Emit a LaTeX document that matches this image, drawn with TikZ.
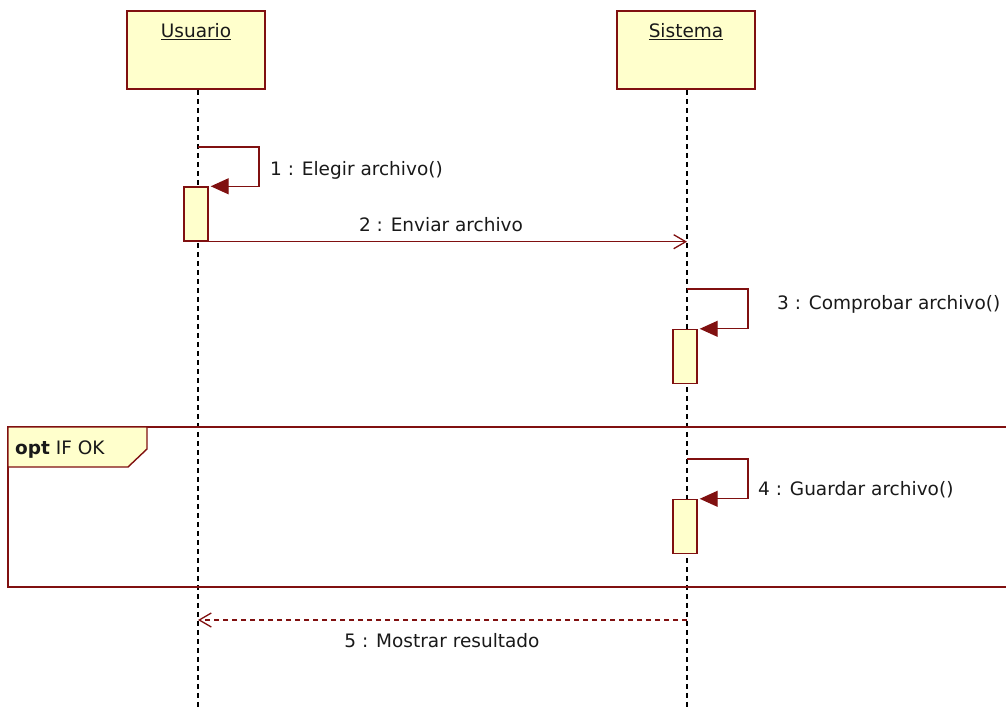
\documentclass[tikz,border=0pt]{standalone}
\usepackage{fontspec}
\setmainfont{DejaVu Sans}
\usetikzlibrary{arrows.meta,positioning}
\definecolor{umlfill}{RGB}{255,255,204}
\definecolor{umlline}{RGB}{128,16,16}
\definecolor{ink}{RGB}{25,25,25}

\tikzset{
  objbox/.style={draw=umlline,fill=umlfill,line width=1.6pt,
    minimum width=138pt,minimum height=78pt,inner sep=0pt,
    label={[text=ink,anchor=north,inner sep=0pt,yshift=-13pt]north:\underline{#1}}},
  actbar/.style={draw=umlline,fill=umlfill,line width=1.4pt,
    minimum width=24pt,minimum height=54pt,inner sep=0pt},
  lifeline/.style={draw=black,line width=1.4pt,dash pattern=on 5pt off 4pt},
  selfmsg/.style={draw=umlline,line width=1.3pt,
    -{Triangle[length=18pt,width=16pt,fill=umlline]}},
  callmsg/.style={draw=umlline,line width=1.3pt,
    -{Straight Barb[length=12pt,width=14pt,line width=1.3pt]}},
  replymsg/.style={callmsg,dash pattern=on 5pt off 4pt},
  msglabel/.style={text=ink,inner sep=0pt}
}

\begin{document}
\begin{tikzpicture}[x=1pt,y=-1pt,font=\fontsize{18.5}{22}\selectfont]
  \useasboundingbox (0,0) rectangle (1006,707);
  \clip (0,0) rectangle (1006,707);

  % lifelines
  \node[objbox=Usuario] (usuario) at (196,50) {};
  \node[objbox=Sistema] (sistema) at (686,50) {};
  \coordinate (uend) at (198,707);
  \coordinate (send) at (687,707);
  \draw[lifeline] (usuario.south -| uend) -- (uend);
  \draw[lifeline] (sistema.south -| send) -- (send);

  % opt frame
  \draw[umlline,line width=1.6pt] (8,427) rectangle (1030,587);
  \filldraw[draw=umlline,fill=umlfill,line width=1.4pt]
    (8,427) -- (147,427) -- (147,449) -- (128,467) -- (8,467) -- cycle;
  \node[msglabel,anchor=west] (optlbl) at (15,450) {\textbf{opt} IF OK};

  % activations
  \node[actbar] (act1) at (196,214) {};
  \node[actbar] (act3) at (685,356.5) {};
  \node[actbar] (act4) at (685,526.5) {};

  % 1
  \coordinate (s1) at (198,147);
  \draw[selfmsg] (s1) -- ++(61,0) |- ([xshift=2pt]act1.north east);
  \node[msglabel,anchor=west] (m1) at (270,170) {1 : Elegir archivo()};

  % 2
  \coordinate (t2) at (act1.south east -| send);
  \draw[callmsg] (act1.south east) -- (t2);
  \node[msglabel] (m2) at (441,225) {2 : Enviar archivo};

  % 3
  \coordinate (s3) at (687,289);
  \draw[selfmsg] (s3) -- ++(61,0) |- ([xshift=2pt]act3.north east);
  \node[msglabel,anchor=west] (m3) at (777,304) {3 : Comprobar archivo()};

  % 4
  \coordinate (s4) at (687,459);
  \draw[selfmsg] (s4) -- ++(61,0) |- ([xshift=2pt]act4.north east);
  \node[msglabel,anchor=west] (m4) at (758,490) {4 : Guardar archivo()};

  % 5
  \coordinate (s5) at (687,620);
  \coordinate (t5) at (198,620);
  \draw[replymsg] (s5) -- (t5);
  \node[msglabel] (m5) at (442,641) {5 : Mostrar resultado};
\end{tikzpicture}
\end{document}
